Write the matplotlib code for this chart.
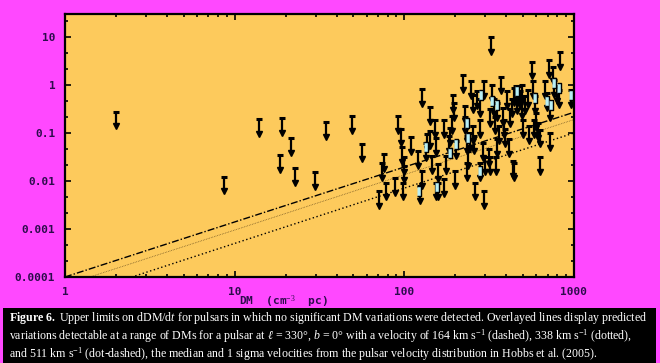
import matplotlib
matplotlib.use("Agg")
import matplotlib.pyplot as plt
import numpy as np
from matplotlib.ticker import LogLocator, NullFormatter, FixedLocator, FixedFormatter

plt.rcParams['mathtext.fontset'] = 'custom'
plt.rcParams['mathtext.rm'] = 'Liberation Serif'
plt.rcParams['mathtext.it'] = 'Liberation Serif:italic'
plt.rcParams['mathtext.bf'] = 'Liberation Serif:bold'

# upper limits on dDM/dt (top of each arrow)
ul_dm = [2.0, 8.6, 14.0, 19.0, 21.5, 18.5, 22.8, 29.7, 34.5,
         49.5, 56, 71, 75.5, 73.8, 77.6, 88, 91.8, 95.6, 97, 99, 99, 98,
         110, 121, 127, 127, 124, 134, 137, 142, 141, 146, 152, 153, 153,
         159, 159, 171, 171, 177, 183, 187, 191, 195, 197, 202, 200,
         222, 229, 227, 235, 233, 237, 235, 245, 248, 254, 256, 259, 262,
         294, 279, 268, 279, 281, 294, 290, 300, 314, 322, 326, 329, 338,
         322, 344, 347, 350, 350, 360, 373, 382, 389, 395, 412, 403, 422,
         431, 437, 445, 441, 456, 461, 472, 483, 495, 501, 495, 518, 537,
         541, 566, 571, 580, 593, 601, 612, 628, 634, 679, 695, 710, 720,
         727, 753, 767, 795, 813, 832, 962]
ul_val = [0.28, 0.0124, 0.198, 0.207, 0.077, 0.034, 0.0185, 0.0155, 0.168,
          0.224, 0.059, 0.0063, 0.037, 0.024, 0.0093, 0.0113, 0.224, 0.124, 0.051, 0.032, 0.021, 0.0093,
          0.084, 0.042, 0.84, 0.016, 0.0079, 0.063, 0.094, 0.35, 0.11, 0.033, 0.19, 0.08, 0.0093,
          0.023, 0.0093, 0.19, 0.011, 0.033, 0.086, 0.129, 0.224, 0.63, 0.42, 0.068, 0.016,
          1.63, 0.36, 0.22, 0.139, 0.086, 0.042, 0.024, 0.10, 1.19, 0.63, 0.139, 0.086, 0.0093,
          0.0063, 0.024, 0.74, 0.50, 0.19, 1.19, 0.063, 0.031, 0.046, 0.031, 10.1, 1.01, 0.50,
          0.31, 0.22, 0.031, 0.42, 0.074, 0.139, 1.5, 0.33, 0.19, 0.12, 0.074, 0.74, 0.31,
          0.50, 0.026, 0.024, 0.87, 0.94, 0.58, 0.94, 0.74, 0.46, 0.19, 1.0, 0.58, 0.80,
          0.139, 3.08, 1.19, 0.19, 0.58, 0.26, 0.164, 0.031, 0.118, 1.19, 0.68, 3.34, 0.10,
          0.42, 2.43, 1.29, 0.94, 0.80, 4.96, 0.80]

# small cyan boxes in the dense part
box_dm = [123, 156, 187, 202, 235, 236, 279, 285, 330, 350, 461, 593, 695, 737, 813, 767, 962, 135]
box_val = [0.0063, 0.0074, 0.039, 0.058, 0.164, 0.08, 0.016, 0.63, 0.46, 0.39, 0.74, 0.54, 0.46, 0.39, 0.87, 1.1, 0.63, 0.05]

# predicted detectable dDM/dt for three velocities
dm_model = [1, 10, 100, 1000]
v511 = [1.0e-4, 1.4e-3, 0.0195, 0.27]
v338 = [6.8e-5, 9.5e-4, 0.0135, 0.19]
v164 = [3.5e-5, 5.0e-4, 0.0071, 0.10]

x_ticks = [1, 10, 100, 1000]
x_labels = ["1", "10", "100", "1000"]
y_ticks = [1e-4, 1e-3, 1e-2, 0.1, 1, 10]
y_labels = ["0.0001", "0.001", "0.01", "0.1", "1", "10"]

caption = [
    r"$\bf{Figure\ 6.}$ Upper limits on dDM/d$\it{t}$ for pulsars in which no significant DM variations were detected. Overlayed lines display predicted",
    r"variations detectable at a range of DMs for a pulsar at $\it{\ell}$ = 330$\degree$, $\it{b}$ = 0$\degree$ with a velocity of 164 km s$^{-1}$ (dashed), 338 km s$^{-1}$ (dotted),",
    r"and 511 km s$^{-1}$ (dot-dashed), the median and 1 sigma velocities from the pulsar velocity distribution in Hobbs et al. (2005).",
]

bg = "#ff48ff"
face = "#fdca5c"
lab_col = "#2c0c4c"

fig = plt.figure(figsize=(6.6, 3.63), dpi=100, facecolor=bg)
ax = fig.add_axes([0.0985, 0.237, 0.771, 0.724])
ax.set_facecolor(face)
ax.set_xscale("log")
ax.set_yscale("log")

ax.plot(dm_model, v511, color="black", lw=1.0, dashes=(5, 1.5, 1, 1.5))
ax.plot(dm_model, v338, color="#6b5020", lw=0.6, dashes=(0.8, 1.2))
ax.plot(dm_model, v164, color="black", lw=1.0, dashes=(1, 1.8))

ul_dm = np.array(ul_dm)
ul_val = np.array(ul_val)
drop = 10 ** -0.31
ax.vlines(ul_dm, ul_val * drop, ul_val, color="black", lw=1.6, zorder=3)
ax.plot(ul_dm, ul_val, ls="none", marker="_", ms=5, mew=2.2, color="black", zorder=4)
ax.plot(ul_dm, ul_val * drop, ls="none", marker="v", ms=4.5, color="black", zorder=4)

ax.plot(box_dm, box_val, ls="none", marker=[(-1, -2.4), (1, -2.4), (1, 2.4), (-1, 2.4)],
        ms=7, mfc="#b8eef4", mec="black", mew=1.0, zorder=5)

ax.set_xlim(1, 1000)
ax.set_ylim(1e-4, 30)

ax.xaxis.set_major_locator(FixedLocator(x_ticks))
ax.xaxis.set_major_formatter(FixedFormatter(x_labels))
ax.xaxis.set_minor_locator(LogLocator(base=10, subs=np.arange(2, 10)))
ax.xaxis.set_minor_formatter(NullFormatter())
ax.yaxis.set_major_locator(FixedLocator(y_ticks))
ax.yaxis.set_major_formatter(FixedFormatter(y_labels))
ax.yaxis.set_minor_locator(LogLocator(base=10, subs=(10 ** (1 / 3), 10 ** (2 / 3))))
ax.yaxis.set_minor_formatter(NullFormatter())

ax.tick_params(which="both", direction="in", top=True, right=True, width=1.2, color="black")
ax.tick_params(which="major", length=4.5)
ax.tick_params(which="minor", length=2.5)
ax.tick_params(axis="x", pad=7)
ax.tick_params(axis="y", pad=7)
for lab in ax.get_xticklabels() + ax.get_yticklabels():
    lab.set_family("DejaVu Sans Mono")
    lab.set_weight("bold")
    lab.set_fontsize(8)
    lab.set_color(lab_col)
for sp in ax.spines.values():
    sp.set_linewidth(1.6)

fig.text(284 / 660, 1 - 302 / 363, r"DM  (cm$^{-3}$  pc)", family="DejaVu Sans Mono",
         weight="bold", fontsize=8, color=lab_col, ha="center", va="center")

fig.patches.append(plt.Rectangle((3 / 660, 0), 653 / 660, 55 / 363, transform=fig.transFigure,
                                 facecolor="black", edgecolor="none"))
for i, line in enumerate(caption):
    fig.text(9 / 660, 1 - (318 + 18 * i) / 363, line, family="Liberation Serif",
             fontsize=8.6, color="white", ha="left", va="center")

fig.savefig("out.png", dpi=100, facecolor=bg)
